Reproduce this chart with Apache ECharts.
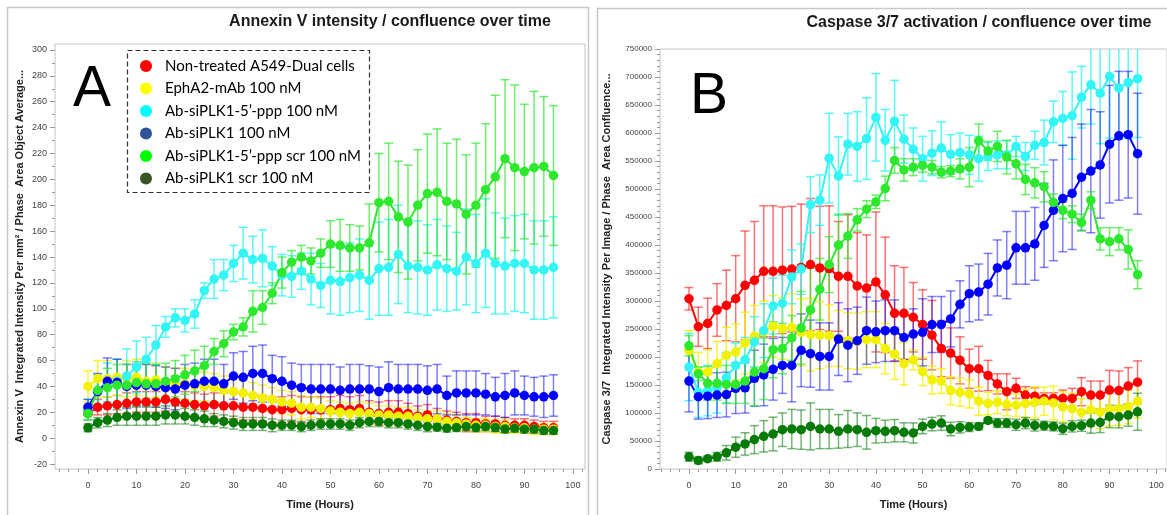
<!DOCTYPE html>
<html>
<head>
<meta charset="utf-8">
<script src="https://cdn.jsdelivr.net/npm/echarts@6/dist/echarts.min.js"></script>
<style>
  html, body { margin: 0; padding: 0; background: #ffffff; }
  #chart { width: 1167px; height: 515px; }
</style>
</head>
<body>
<div id="chart"></div>
<script>
// Sampling times (hours)
const hours = [0,2,4,6,8,10,12,14,16,18,20,22,24,26,28,30,32,34,36,38,40,42,44,46,48,
               50,52,54,56,58,60,62,64,66,68,70,72,74,76,78,80,82,84,86,88,90,92,94,96];

// Treatment groups
const groupNames = [
  'Non-treated A549-Dual cells',
  'EphA2-mAb 100 nM',
  'Ab-siPLK1-5\u2019-ppp 100 nM',
  'Ab-siPLK1 100 nM',
  'Ab-siPLK1-5\u2019-ppp scr 100 nM',
  'Ab-siPLK1 scr 100 nM'
];

// Panel A: Annexin V integrated intensity per mm² / phase area (mean)
const annexinRed    = [19,24,25,26,27,28,28,28,30,28,27,26,25,26,25,25,24,24,23,22,22,23,22,22,22,22,23,22,23,20,19,20,20,19,17,18,15,14,13,12,12,11,11,10,10,10,9,8,8];
const annexinYellow = [40,46,46,47,46,47,44,45,43,42,42,41,40,39,37,36,35,33,31,30,28,27,24,24,23,21,20,19,20,19,18,18,17,17,16,15,15,13,12,11,10,10,9,9,8,8,7,7,7];
const annexinCyan   = [22,36,43,44,48,55,61,72,86,93,91,96,114,123,126,135,143,138,139,133,126,125,129,123,118,122,121,124,126,122,131,132,142,133,132,130,134,131,129,140,135,143,135,133,135,135,130,130,132];
const annexinBlue   = [24,36,44,43,40,41,41,40,39,38,41,42,44,44,42,48,47,50,50,46,44,41,39,38,38,38,37,38,38,38,36,39,38,38,38,37,38,33,35,35,35,34,32,33,35,33,32,32,33];
const annexinGreen  = [19,37,39,41,41,43,42,42,44,46,49,52,56,67,73,82,86,98,101,112,128,136,140,137,143,150,149,147,147,151,182,183,171,167,180,189,190,183,181,173,180,192,202,216,209,206,209,210,203];
const annexinDkGreen= [8,12,14,16,17,17,17,17,18,18,17,16,15,14,13,12,11,11,11,10,10,10,9,10,11,11,11,10,12,13,13,12,12,11,10,9,8.5,7.7,8.2,9,8.2,9,8.2,7.2,7.7,7,7,6,6];

// Panel A: error (± half width)
const annexinRedErr    = [5,6,7,7,8,8,8,8,9,9,9,9,9,9,10,10,10,10,10,10,10,10,10,10,10,10,10,10,10,9,9,9,9,8,8,8,8,7,7,7,7,6,6,6,5,5,5,5,5];
const annexinYellowErr = [12,14,14,14,14,14,13,13,12,12,12,12,11,11,11,10,10,10,10,9,9,9,9,8,8,8,8,8,8,8,7,7,7,7,6,6,6,6,6,5,5,5,5,5,4,4,4,4,4];
const annexinCyanErr   = [8,10,15,17,21,20,17,15,8,7,9,11,6,15,12,14,20,18,22,15,16,16,14,20,17,26,26,27,28,30,36,37,38,36,36,35,35,33,30,37,38,42,39,37,37,38,38,38,39];
const annexinBlueErr   = [6,14,18,18,17,16,16,16,16,16,16,16,17,17,15,18,20,21,22,18,19,17,18,19,19,19,18,19,19,18,19,20,19,19,19,19,19,15,17,17,17,16,15,17,17,15,15,16,16];
const annexinGreenErr  = [5,12,15,16,16,16,16,15,14,14,15,16,15,10,10,6,7,16,13,8,12,9,9,10,11,18,20,18,17,30,38,45,43,44,43,46,49,45,50,46,48,51,63,61,64,52,59,54,54];
const annexinDkGreenErr= [3,4,5,6,7,7,7,7,7,7,6,6,6,5,5,5,5,5,5,5,4,4,4,4,4,4,4,4,4,4,4,4,4,4,4,4,3,3,3,3,3,3,3,3,3,3,3,3,3];

// Panel B: Caspase 3/7 integrated intensity per image / phase area confluence (mean)
const caspRed    = [304000,254000,260000,284000,292000,304000,328000,337000,353000,353000,355000,357000,360000,365000,359000,358000,344000,344000,327000,323000,334000,311000,278000,278000,271000,258000,239000,215000,207000,194000,179000,179000,167000,152000,138000,144000,132000,130000,126000,126000,126000,126000,138000,132000,132000,141000,140000,148000,155000];
const caspYellow = [212000,173000,173000,188000,203000,209000,225000,237000,245000,255000,251000,253000,244000,240000,239000,238000,233000,229000,228000,231000,231000,215000,205000,188000,195000,174000,159000,157000,140000,137000,134000,121000,117000,119000,115000,114000,117000,119000,121000,118000,111000,108000,101000,106000,102000,107000,108000,111000,121000];
const caspCyan   = [182000,137000,140000,145000,163000,185000,195000,227000,247000,291000,296000,343000,357000,472000,480000,555000,523000,580000,576000,590000,628000,587000,621000,589000,571000,554000,564000,573000,562000,565000,561000,554000,558000,561000,561000,576000,558000,578000,583000,620000,626000,631000,664000,686000,671000,701000,680000,690000,697000];
const caspBlue   = [157000,129000,130000,132000,133000,144000,145000,162000,168000,178000,185000,185000,212000,206000,201000,201000,232000,221000,229000,247000,245000,247000,247000,235000,241000,244000,258000,258000,268000,294000,313000,316000,330000,359000,364000,395000,395000,402000,435000,462000,483000,492000,521000,532000,543000,580000,595000,597000,563000];
const caspGreen  = [220000,170000,153000,153000,151000,151000,157000,173000,179000,213000,215000,234000,252000,284000,321000,365000,400000,416000,445000,464000,477000,501000,551000,534000,539000,542000,539000,530000,532000,536000,539000,586000,568000,576000,557000,545000,517000,511000,504000,476000,462000,455000,440000,480000,411000,406000,411000,392000,347000];
const caspDkGreen= [21800,15300,18300,21800,28900,38900,44800,52500,58400,62500,70200,71400,70200,76100,71400,71400,67200,71400,70200,65500,68400,67200,68400,65500,64300,76100,80200,82000,71400,74300,74900,76100,86700,82000,82000,79000,82000,77800,77300,76100,71900,76100,77300,82000,83100,93800,93300,96300,102200];

// Panel B: error (± half width)
const caspRedErr    = [20000,35000,45000,47000,63000,77000,97000,105000,117000,117000,113000,112000,113000,118000,110000,112000,98000,110000,95000,95000,125000,103000,85000,82000,62000,62000,62000,50000,45000,42000,35000,40000,27000,18000,32000,18000,15000,15000,10000,10000,15000,18000,25000,25000,25000,35000,35000,33000,38000];
const caspYellowErr = [35000,35000,40000,40000,50000,50000,55000,55000,55000,55000,55000,60000,60000,65000,60000,55000,50000,50000,50000,50000,50000,45000,45000,38000,18000,25000,25000,22000,25000,25000,25000,25000,20000,20000,20000,20000,25000,28000,25000,30000,27000,27000,25000,30000,30000,30000,30000,30000,30000];
const caspCyanErr   = [60000,45000,45000,45000,45000,40000,40000,45000,48000,50000,50000,48000,45000,50000,45000,80000,70000,55000,62000,73000,78000,55000,73000,43000,38000,40000,40000,47000,35000,35000,35000,40000,25000,25000,25000,18000,25000,25000,40000,37000,48000,78000,55000,70000,90000,110000,90000,100000,105000];
const caspBlueErr   = [55000,40000,40000,40000,40000,45000,45000,50000,55000,55000,50000,65000,65000,60000,60000,60000,65000,65000,60000,60000,55000,55000,55000,40000,45000,60000,50000,50000,50000,42000,50000,50000,55000,50000,60000,65000,65000,65000,75000,90000,95000,100000,95000,110000,95000,105000,115000,113000,108000];
const caspGreenErr  = [18000,12000,30000,30000,34000,34000,40000,60000,55000,50000,45000,40000,65000,75000,55000,50000,55000,40000,20000,15000,12000,22000,23000,20000,15000,12000,12000,10000,10000,18000,35000,30000,17000,27000,30000,27000,27000,27000,27000,15000,15000,15000,15000,15000,20000,25000,20000,35000,25000];
const caspDkGreenErr= [8000,6000,5000,8000,13000,18000,20000,25000,28000,30000,30000,35000,35000,42000,35000,35000,30000,33000,30000,30000,22000,20000,20000,17000,18000,13000,12000,13000,12000,10000,8000,6000,5000,8000,8000,10000,10000,10000,8000,8000,10000,10000,10000,18000,18000,20000,20000,20000,33000];

// Axis tick labels
const timeTicks = [0,10,20,30,40,50,60,70,80,90,100];
const annexinTicks = [-20,0,20,40,60,80,100,120,140,160,180,200,220,240,260,280,300];
const caspTicks = [0,50000,100000,150000,200000,250000,300000,350000,400000,450000,500000,550000,600000,650000,700000,750000];

// Colours
const lineColors   = ['#ff0000', '#f2f200', '#33f5f5', '#0000ff', '#2de82d', '#067a06'];
const legendColors = ['#ff0000', '#ffff00', '#00ffff', '#2f5597', '#00ff00', '#375623'];
const barOpacity   = [0.55, 0.8, 0.8, 0.5, 0.7, 0.55];

function steps(start, end, step) {
  const out = [];
  for (let v = start; v <= end + 1e-9; v += step) out.push(v);
  return out;
}

const annexinMeans = [annexinRed, annexinYellow, annexinCyan, annexinBlue, annexinGreen, annexinDkGreen];
const annexinErrs  = [annexinRedErr, annexinYellowErr, annexinCyanErr, annexinBlueErr, annexinGreenErr, annexinDkGreenErr];
const caspMeans    = [caspRed, caspYellow, caspCyan, caspBlue, caspGreen, caspDkGreen];
const caspErrs     = [caspRedErr, caspYellowErr, caspCyanErr, caspBlueErr, caspGreenErr, caspDkGreenErr];

const FONT = 'Liberation Sans, Arial, sans-serif';

function errorBarRenderer(color, opacity) {
  return function (params, api) {
    const x = api.value(0);
    const lo = api.coord([x, api.value(1)]);
    const hi = api.coord([x, api.value(2)]);
    const half = 4.5;
    const style = { stroke: color, lineWidth: 1.5, opacity: opacity };
    return {
      type: 'group',
      children: [
        { type: 'line', shape: { x1: lo[0], y1: lo[1], x2: hi[0], y2: hi[1] }, style: style },
        { type: 'line', shape: { x1: lo[0] - half, y1: lo[1], x2: lo[0] + half, y2: lo[1] }, style: style },
        { type: 'line', shape: { x1: hi[0] - half, y1: hi[1], x2: hi[0] + half, y2: hi[1] }, style: style }
      ]
    };
  };
}

function panelSeries(means, errs, xAxisIndex, yAxisIndex) {
  const out = [];
  means.forEach(function (vals, i) {
    out.push({
      type: 'custom',
      name: groupNames[i],
      xAxisIndex: xAxisIndex, yAxisIndex: yAxisIndex,
      data: hours.map(function (h, k) { return [h, vals[k] - errs[i][k], vals[k] + errs[i][k]]; }),
      encode: { x: 0, y: [1, 2] },
      renderItem: errorBarRenderer(lineColors[i], barOpacity[i]),
      clip: true, silent: true, animation: false
    });
    out.push({
      type: 'line',
      name: groupNames[i],
      xAxisIndex: xAxisIndex, yAxisIndex: yAxisIndex,
      data: hours.map(function (h, k) { return [h, vals[k]]; }),
      symbol: 'circle', symbolSize: 9.5, showSymbol: true,
      lineStyle: { width: 2, color: lineColors[i] },
      itemStyle: { color: lineColors[i] },
      clip: true, silent: true, animation: false
    });
  });
  return out;
}

const tickLine = { color: '#9a9a9a', width: 1 };
const noLine = { show: false, onZero: false };
const plainNumber = function (v) { return String(Math.round(v)); };

const option = {
  backgroundColor: '#ffffff',
  animation: false,
  title: [
    { text: 'Annexin V intensity / confluence over time', left: 390, top: 14, textAlign: 'center', padding: 0,
      textStyle: { fontFamily: FONT, fontSize: 16, fontWeight: 'bold', color: '#1a1a1a' } },
    { text: 'Caspase 3/7 activation / confluence over time', left: 979, top: 15, textAlign: 'center', padding: 0,
      textStyle: { fontFamily: FONT, fontSize: 16, fontWeight: 'bold', color: '#1a1a1a' } }
  ],
  legend: {
    orient: 'vertical', left: 140, top: 58.5, padding: 0,
    itemWidth: 28, itemHeight: 12, itemGap: 7.5, icon: 'circle',
    selectedMode: false,
    textStyle: { fontFamily: 'Lato, sans-serif', fontSize: 15, color: '#000', lineHeight: 14 },
    data: groupNames.map(function (n, i) { return { name: n, itemStyle: { color: legendColors[i] } }; })
  },
  grid: [
    { left: 55, top: 44, width: 530, height: 427, show: true, borderColor: '#c4c4c4', borderWidth: 1, containLabel: false },
    { left: 660, top: 49, width: 512, height: 424, show: true, borderColor: '#c4c4c4', borderWidth: 1, containLabel: false }
  ],
  xAxis: [
    { gridIndex: 0, type: 'value', position: 'bottom', min: -6.8, max: 102.5,
      axisLine: noLine, splitLine: { show: false },
      axisTick: { show: true, length: 5, lineStyle: tickLine, customValues: timeTicks },
      axisLabel: { customValues: timeTicks, fontFamily: FONT, fontSize: 9, color: '#444', margin: 12, formatter: plainNumber },
      name: 'Time (Hours)', nameLocation: 'middle', nameGap: 30,
      nameTextStyle: { fontFamily: FONT, fontSize: 11, fontWeight: 'bold', color: '#222' } },
    { gridIndex: 0, type: 'value', position: 'bottom', min: -6.8, max: 102.5,
      axisLine: noLine, splitLine: { show: false },
      axisTick: { show: true, length: 3, lineStyle: tickLine, customValues: steps(-6, 102, 2) },
      axisLabel: { show: false } },
    { gridIndex: 1, type: 'value', position: 'bottom', min: -6.2, max: 102.3,
      axisLine: noLine, splitLine: { show: false },
      axisTick: { show: true, length: 5, lineStyle: tickLine, customValues: timeTicks },
      axisLabel: { customValues: timeTicks, fontFamily: FONT, fontSize: 9, color: '#444', margin: 12, formatter: plainNumber },
      name: 'Time (Hours)', nameLocation: 'middle', nameGap: 30,
      nameTextStyle: { fontFamily: FONT, fontSize: 11, fontWeight: 'bold', color: '#222' } },
    { gridIndex: 1, type: 'value', position: 'bottom', min: -6.2, max: 102.3,
      axisLine: noLine, splitLine: { show: false },
      axisTick: { show: true, length: 3, lineStyle: tickLine, customValues: steps(-6, 102, 2) },
      axisLabel: { show: false } }
  ],
  yAxis: [
    { gridIndex: 0, type: 'value', position: 'left', min: -23.8, max: 304.6,
      axisLine: noLine, splitLine: { show: false },
      axisTick: { show: true, length: 5, lineStyle: tickLine, customValues: annexinTicks },
      axisLabel: { customValues: annexinTicks, fontFamily: FONT, fontSize: 9, color: '#444', margin: 8, formatter: plainNumber },
      name: 'Annexin V  Integrated Intensity Per mm\u00b2 / Phase  Area Object Average...',
      nameLocation: 'middle', nameRotate: 90, nameGap: 30,
      nameTextStyle: { fontFamily: FONT, fontSize: 11, fontWeight: 'bold', color: '#222' } },
    { gridIndex: 0, type: 'value', position: 'left', min: -23.8, max: 304.6,
      axisLine: noLine, splitLine: { show: false },
      axisTick: { show: true, length: 3, lineStyle: tickLine, customValues: steps(-20, 300, 10) },
      axisLabel: { show: false } },
    { gridIndex: 1, type: 'value', position: 'left', min: 0, max: 750000,
      axisLine: noLine, splitLine: { show: false },
      axisTick: { show: true, length: 5, lineStyle: tickLine, customValues: caspTicks },
      axisLabel: { customValues: caspTicks, fontFamily: FONT, fontSize: 8, color: '#444', margin: 8, formatter: plainNumber },
      name: 'Caspase 3/7  Integrated Intensity Per Image / Phase  Area Confluence...',
      nameLocation: 'middle', nameRotate: 90, nameGap: 48,
      nameTextStyle: { fontFamily: FONT, fontSize: 11, fontWeight: 'bold', color: '#222' } },
    { gridIndex: 1, type: 'value', position: 'left', min: 0, max: 750000,
      axisLine: noLine, splitLine: { show: false },
      axisTick: { show: true, length: 3, lineStyle: tickLine, customValues: steps(0, 750000, 10000) },
      axisLabel: { show: false } }
  ],
  graphic: [
    // panel frames
    { type: 'rect', silent: true, z: -10, shape: { x: 7.5, y: 7.5, width: 581, height: 530 },
      style: { fill: 'none', stroke: '#c8c8c8', lineWidth: 1.5 } },
    { type: 'rect', silent: true, z: -10, shape: { x: 597.5, y: 8.5, width: 590, height: 530 },
      style: { fill: 'none', stroke: '#c8c8c8', lineWidth: 1.5 } },
    // dashed legend box
    { type: 'rect', silent: true, z: 100, shape: { x: 127.5, y: 50.5, width: 242, height: 142 },
      style: { fill: 'none', stroke: '#333', lineWidth: 1.2, lineDash: [5, 3] } },
    // panel letters
    { type: 'text', silent: true, z: 100, x: 92, y: 90,
      style: { text: 'A', font: '57px Liberation Sans, Arial, sans-serif', fill: '#000', textAlign: 'center', textVerticalAlign: 'middle' } },
    { type: 'text', silent: true, z: 100, x: 709, y: 97,
      style: { text: 'B', font: '57px Liberation Sans, Arial, sans-serif', fill: '#000', textAlign: 'center', textVerticalAlign: 'middle' } }
  ],
  series: [].concat(
    panelSeries(annexinMeans, annexinErrs, 0, 0),
    panelSeries(caspMeans, caspErrs, 2, 2)
  )
};

const chart = echarts.init(document.getElementById('chart'), null, { renderer: 'canvas' });
chart.setOption(option);
</script>
</body>
</html>
